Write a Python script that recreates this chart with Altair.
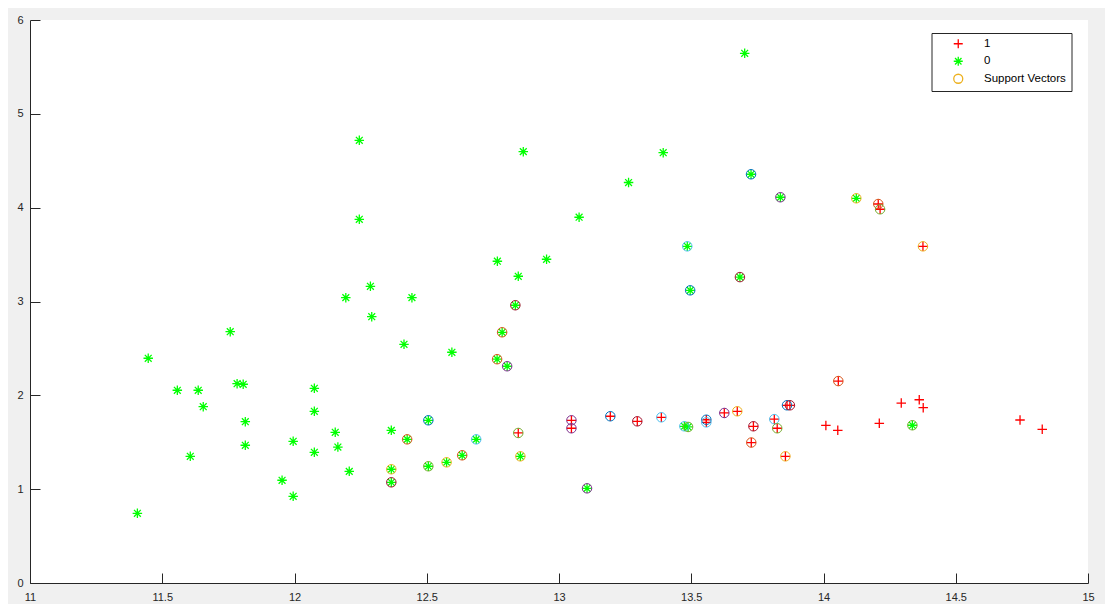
import altair as alt
import pandas as pd

# ---- data ----
# class "1" (red plus)
class1_x = [12.846, 13.047, 13.047, 13.194, 13.296, 13.387, 13.557, 13.557, 13.625, 13.674,
            13.735, 13.727, 13.814, 13.825, 13.856, 13.862, 13.873, 14.056, 14.207, 14.214,
            14.376, 14.009, 14.054, 14.211, 14.294, 14.362, 14.377, 14.743, 14.827]
class1_y = [1.599, 1.734, 1.649, 1.777, 1.723, 1.766, 1.740, 1.712, 1.812, 1.830,
            1.670, 1.497, 1.746, 1.649, 1.350, 1.894, 1.894, 2.152, 4.039, 3.983,
            3.588, 1.679, 1.627, 1.702, 1.918, 1.953, 1.868, 1.737, 1.638]

# class "0" (green asterisk)
class0_x = [11.406, 11.447, 11.557, 11.636, 11.655, 11.606, 11.757, 11.783, 11.806, 11.814,
            11.814, 11.953, 11.995, 11.995, 12.075, 12.075, 12.075, 12.154, 12.164, 12.207,
            12.194, 12.287, 12.292, 12.245, 12.245, 12.366, 12.414, 12.444, 12.595, 12.767,
            12.846, 12.953, 12.865, 13.076, 13.263, 13.394, 13.702,
            12.366, 12.366, 12.426, 12.506, 12.506, 12.575, 12.634, 12.687, 12.766, 12.785,
            12.804, 12.835, 12.854, 13.106, 13.474, 13.488, 13.485, 13.496, 13.684, 13.726,
            13.837, 14.124, 14.336]
class0_y = [0.743, 2.395, 2.054, 2.054, 1.879, 1.350, 2.678, 2.124, 2.118, 1.719,
            1.468, 1.095, 1.510, 0.924, 2.075, 1.830, 1.393, 1.606, 1.449, 1.190,
            3.041, 3.162, 2.838, 4.718, 3.876, 1.627, 2.544, 3.041, 2.459, 3.429,
            3.269, 3.450, 4.597, 3.898, 4.268, 4.586, 5.645,
            1.212, 1.073, 1.531, 1.734, 1.244, 1.286, 1.361, 1.531, 2.385, 2.672,
            2.310, 2.960, 1.350, 1.009, 1.670, 1.663, 3.588, 3.119, 3.260, 4.356,
            4.111, 4.100, 1.681]

# support vectors (circles) and their colour-cycle colours
sv_x = [12.366, 12.366, 12.426, 12.506, 12.506, 12.575, 12.634, 12.687, 12.766, 12.785,
        12.804, 12.835, 12.854, 13.106, 13.474, 13.488, 13.485, 13.496, 13.684, 13.726,
        13.837, 14.124, 14.336,
        12.846, 13.047, 13.047, 13.194, 13.296, 13.387, 13.557, 13.557, 13.625, 13.674,
        13.735, 13.727, 13.814, 13.825, 13.856, 13.862, 13.873, 14.056, 14.207, 14.214,
        14.376]
sv_y = [1.212, 1.073, 1.531, 1.734, 1.244, 1.286, 1.361, 1.531, 2.385, 2.672,
        2.310, 2.960, 1.350, 1.009, 1.670, 1.663, 3.588, 3.119, 3.260, 4.356,
        4.111, 4.100, 1.681,
        1.599, 1.734, 1.649, 1.777, 1.723, 1.766, 1.740, 1.712, 1.812, 1.830,
        1.670, 1.497, 1.746, 1.649, 1.350, 1.894, 1.894, 2.152, 4.039, 3.983,
        3.588]
B, O, Y, P, G, L, R = "#0072BD", "#D95319", "#EDB120", "#7E2F8E", "#77AC30", "#4DBEEE", "#A2142F"
sv_colors = [Y, R, O, B, G, Y, O, L, O, O,
             P, R, Y, P, L, G, L, B, R, B,
             P, Y, G,
             G, P, P, B, R, L, B, L, P, Y,
             R, O, L, G, Y, B, R, O, O, G,
             Y]

legend_labels = ["1", "0", "Support Vectors"]
legend_colors = ["#FF0000", "#00FF00", "#EDB120"]
x_ticks = [11, 11.5, 12, 12.5, 13, 13.5, 14, 14.5, 15]
y_ticks = [0, 1, 2, 3, 4, 5, 6]

# ---- chart ----
W, H = 1058, 563
AX = "#262626"
FONT = "Liberation Sans"
plus_path = "M-1,0L1,0M0,-1L0,1"
star_path = "M-1,0L1,0M0,-1L0,1M-0.72,-0.72L0.72,0.72M-0.72,0.72L0.72,-0.72"

df_pts = pd.DataFrame({
    "x": class1_x + class0_x,
    "y": class1_y + class0_y,
    "cls": ["1"] * len(class1_x) + ["0"] * len(class0_x),
})
df_sv = pd.DataFrame({"x": sv_x, "y": sv_y, "c": sv_colors})

xs = alt.Scale(domain=[11, 15], nice=False, zero=False)
ys = alt.Scale(domain=[0, 6], nice=False, zero=False)

leg = alt.Legend(
    title=None, orient="none", legendX=901.5, legendY=13,
    strokeColor=AX, fillColor="white", padding=5,
    symbolOffset=16, labelOffset=20, rowPadding=2.5,
    labelFont=FONT, labelFontSize=11.5, labelColor="#000000",
    symbolSize=81, symbolStrokeWidth=1.3, symbolType="circle",
)

pts = alt.Chart(df_pts).mark_point(filled=False, size=90, strokeWidth=1.3, opacity=1).encode(
    x=alt.X("x:Q", scale=xs, axis=alt.Axis(
        orient="bottom", values=x_ticks, format="~g", ticks=False, grid=False,
        domainColor=AX, domainWidth=1, labelColor=AX, labelFont=FONT, labelFontSize=11,
        labelPadding=8, title=None, labelFlush=False)),
    y=alt.Y("y:Q", scale=ys, axis=alt.Axis(
        orient="left", values=y_ticks, ticks=False, grid=False,
        domainColor=AX, domainWidth=1, labelColor=AX, labelFont=FONT, labelFontSize=11,
        labelPadding=7, title=None, labelFlush=False)),
    shape=alt.Shape("cls:N", scale=alt.Scale(domain=legend_labels,
                                              range=[plus_path, star_path, "circle"]), legend=leg),
    color=alt.Color("cls:N", scale=alt.Scale(domain=legend_labels, range=legend_colors), legend=leg),
)

sv = alt.Chart(df_sv).mark_point(shape="circle", filled=False, size=90, strokeWidth=1, opacity=1).encode(
    x=alt.X("x:Q", scale=xs, axis=alt.Axis(
        orient="top", offset=-H, values=x_ticks, labels=False, domain=False, grid=False,
        ticks=True, tickSize=10, tickColor=AX, tickWidth=1, title=None)),
    y=alt.Y("y:Q", scale=ys, axis=alt.Axis(
        orient="right", offset=-W, values=y_ticks, labels=False, domain=False, grid=False,
        ticks=True, tickSize=10, tickColor=AX, tickWidth=1, title=None)),
    color=alt.Color("c:N", scale=None),
)

chart = alt.layer(pts, sv).resolve_scale(color="independent", shape="independent").resolve_axis(
    x="independent", y="independent"
).properties(
    width=W, height=H,
    autosize=alt.AutoSizeParams(type="none"),
    padding={"left": 22, "top": 12, "right": 17, "bottom": 21},
).configure(background="#F0F0F0").configure_view(fill="white", stroke=None)

chart.save("out.html", embed_options={"renderer": "svg", "actions": False})
